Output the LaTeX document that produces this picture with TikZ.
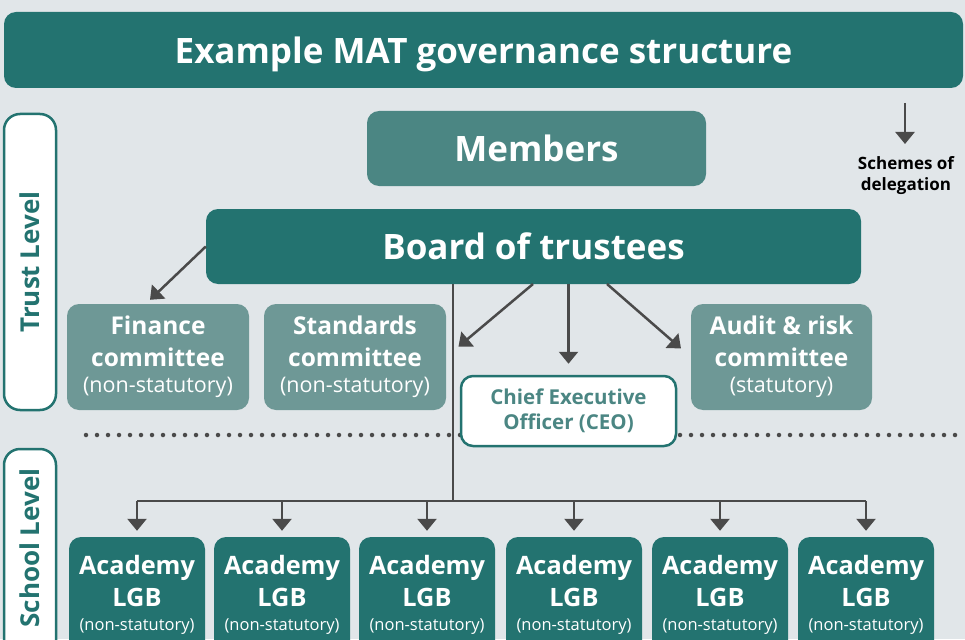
\documentclass[tikz,border=0pt]{standalone}
\usepackage{fontspec}
\setmainfont{Open Sans}
\usetikzlibrary{arrows.meta}
\definecolor{bgc}{HTML}{E1E6E9}
\definecolor{dteal}{HTML}{237370}
\definecolor{mteal}{HTML}{4B8683}
\definecolor{lteal}{HTML}{6E9896}
\definecolor{arrc}{HTML}{4A4A4A}
\begin{document}
\begin{tikzpicture}[x=1pt,y=-1pt,
  box/.style={rounded corners=12pt, inner sep=0pt, align=center, text=white},
  bigtxt/.style={font=\bfseries\fontsize{35}{40}\selectfont, text depth=0pt},
  cmtxt/.style={font=\bfseries\fontsize{24.5}{32}\selectfont},
  lvl/.style={draw=dteal, line width=2.5pt, fill=white, rounded corners=16pt, inner sep=0pt},
  lvltxt/.style={text=dteal, font=\bfseries\fontsize{26}{30}\selectfont, rotate=90},
  conn/.style={draw=arrc, line width=2.5pt},
  arr/.style={conn, -{Triangle[width=19pt,length=12pt]}},
  dots/.style={draw=arrc, line width=4.5pt, line cap=round, dash pattern=on 0pt off 11pt}
]
\useasboundingbox (0,0) rectangle (965,639);
\fill[bgc] (0,0) rectangle (965,639);
\clip (0,0) rectangle (965,639);

% dotted separator
\coordinate (dl) at (86,435);
\coordinate (dr) at (963,435);
\draw[dots] (dl) -- (dr);

% title
\node[box, fill=dteal, minimum width=959pt, minimum height=76pt, bigtxt] (title) at (483.5,50) {Example MAT governance structure};

% level boxes
\node[lvl, minimum width=52pt, minimum height=296pt] (trust) at (30,262) {};
\node[lvltxt] at (trust.center) {Trust Level};
\node[lvl, minimum width=52pt, minimum height=210pt] (school) at (30,554) {};
\node[lvltxt] at (30,548) {School Level};

% main nodes
\node[box, fill=mteal, minimum width=339pt, minimum height=75pt, bigtxt] (mem) at (536.5,148.5) {Members};
\node[box, fill=dteal, minimum width=655pt, minimum height=75pt, bigtxt] (board) at (533.5,246.5) {Board of trustees};

\node[box, fill=lteal, minimum width=182pt, minimum height=106pt, cmtxt] (fin) at (158,357)
  {Finance\\committee\\[-6pt]{\mdseries\fontsize{21.5}{24}\selectfont(non-statutory)}};
\node[box, fill=lteal, minimum width=182pt, minimum height=106pt, cmtxt] (std) at (355,357)
  {Standards\\committee\\[-6pt]{\mdseries\fontsize{21.5}{24}\selectfont(non-statutory)}};
\node[box, fill=lteal, minimum width=181pt, minimum height=106pt, cmtxt] (aud) at (781.5,357)
  {Audit \& risk\\committee\\[-6pt]{\mdseries\fontsize{21.5}{24}\selectfont(statutory)}};

\node[box, fill=white, draw=dteal, line width=2.5pt, text=mteal, minimum width=215pt, minimum height=70pt,
  font=\bfseries\fontsize{20.5}{25}\selectfont] (ceo) at (568.5,411) {Chief Executive\\Officer (CEO)};

% schemes of delegation
\node[align=center, font=\bfseries\fontsize{17}{21}\selectfont, text=black, inner sep=0pt] (sod) at (906,176) {Schemes of\\delegation};
\coordinate (sodtop) at (905,103);
\draw[arr] (sodtop) -- (sodtop |- 0,144);

% academies
\foreach \i/\x in {1/137,2/282,3/427,4/574,5/720,6/866}{
  \node[box, fill=dteal, minimum width=136pt, minimum height=116pt, font=\bfseries\fontsize{25.3}{32}\selectfont] (a\i) at (\x,595)
    {Academy\\LGB\\[-8pt]{\mdseries\fontsize{16.5}{18}\selectfont(non-statutory)}};
}

% connectors from board
\draw[arr] (board.west) -- ([xshift=-8pt,yshift=4pt]fin.north);
\coordinate (b1) at (533,284);
\coordinate (b2) at (607,284);
\draw[arr, shorten >=16pt] (b1) -- (std.east);
\draw[arr, shorten >=11pt] (ceo.north |- board.south) -- (ceo.north);
\draw[arr, shorten >=13pt] (b2) -- (aud.west);

% trunk to academies
\coordinate (hub) at (453,501);
\draw[conn] (hub |- board.south) -- (hub);
\draw[conn] (a1.north |- hub) -- (a6.north |- hub);
\foreach \i in {1,...,6}{
  \draw[arr, shorten >=6pt] (a\i.north |- hub) -- (a\i.north);
}
\end{tikzpicture}
\end{document}
